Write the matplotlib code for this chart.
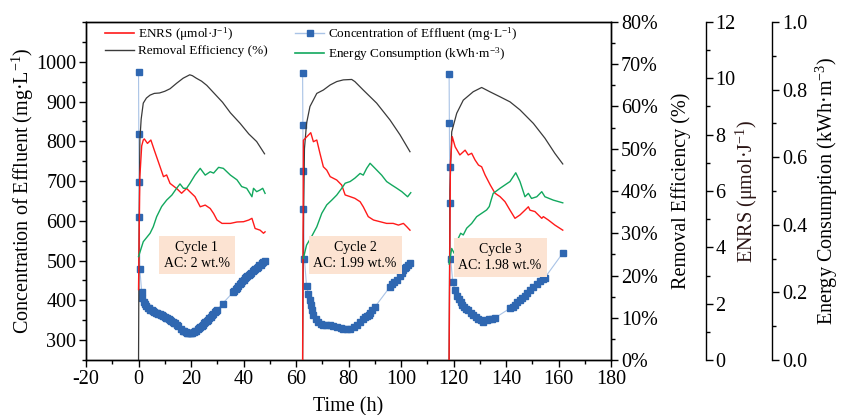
import matplotlib
matplotlib.use("Agg")
import matplotlib.pyplot as plt
from matplotlib.ticker import MultipleLocator, PercentFormatter, FormatStrFormatter
from matplotlib.lines import Line2D

plt.rcParams['font.family'] = ['Liberation Serif', 'DejaVu Serif']
plt.rcParams['mathtext.fontset'] = 'custom'
plt.rcParams['mathtext.rm'] = 'Liberation Serif'
plt.rcParams['mathtext.it'] = 'Liberation Serif:italic'
plt.rcParams['axes.unicode_minus'] = False
plt.rcParams['xtick.direction'] = 'out'
plt.rcParams['ytick.direction'] = 'out'

# effluent concentration (mg/L), one list per cycle
conc_t = [
    [0, 0.1, 0.2, 0.3, 0.5, 1.2, 1.5, 2, 2.5, 3, 3.5, 4, 4.5, 5, 5.5, 6, 6.5, 7, 7.5, 8, 8.5, 9,
     9.5, 10, 10.5, 11, 11.5, 12, 12.5, 13, 13.5, 14, 14.5, 15, 16, 17, 17.5, 18, 18.5, 19, 19.5,
     20, 20.5, 21, 21.5, 22, 22.5, 23, 23.5, 24, 24.5, 25, 25.5, 26, 26.5, 27, 27.5, 28, 28.5, 29,
     29.5, 30, 32, 36, 36.5, 37, 37.5, 38, 38.5, 39, 39.5, 40, 40.5, 41, 41.5, 42, 42.5, 43, 43.5,
     44, 44.5, 45, 45.5, 46, 46.5, 47, 47.5, 48],
    [62.5, 62.6, 62.7, 62.8, 63.2, 64, 64.7, 65.2, 65.6, 66.1, 66.6, 67.5, 68.5, 69.5, 70.4,
     71.5, 73, 74, 75.5, 77, 78, 79.5, 80.6, 82, 83.1, 84.5, 85.6, 86.3, 87, 87.6, 88.2, 89, 90.1,
     95.8, 96.5, 97.5, 98.4, 99.5, 100.2, 100.9, 101.5, 102, 102.7, 103.4],
    [118.3, 118.4, 118.5, 118.6, 118.9, 119.7, 120.6, 121.5, 122.1, 122.7, 123.4, 124, 124.8,
     125.6, 126.5, 127.5, 128.5, 129.5, 130.3, 131.1, 132.6, 133.5, 134.5, 135.8, 141.5, 142.5,
     143.4, 144.3, 145.3, 146.2, 147.2, 148.1, 149.1, 150.4, 151.7, 153, 154.2, 154.8, 161.6],
]
conc_v = [
    [973, 819, 697, 610, 478, 421, 405, 396, 390, 385, 382, 380, 377, 375, 372, 370, 368, 367,
     366, 365, 363, 362, 360, 358, 356, 355, 352, 350, 348, 346, 344, 342, 338, 335, 328, 324,
     322, 320, 319, 318, 317, 318, 319, 320, 322, 324, 327, 330, 333, 336, 339, 342, 345, 348,
     351, 355, 358, 362, 366, 370, 373, 376, 392, 420, 424, 428, 432, 436, 440, 444, 448, 452,
     455, 458, 461, 464, 467, 470, 473, 476, 479, 482, 485, 488, 490, 493, 496, 498],
    [971, 841, 726, 629, 504, 436, 417, 400, 388, 375, 363, 352, 346, 341, 338, 338, 338, 335,
     333, 330, 329, 329, 329, 333, 338, 346, 354, 357, 360, 363, 367, 375, 384, 434, 440, 446,
     451, 462, 469, 476, 481, 485, 489, 493],
    [970, 846, 735, 646, 504, 446, 425, 412, 404, 395, 389, 383, 379, 375, 369, 363, 358, 354,
     350, 346, 350, 352, 354, 356, 380, 384, 388, 395, 401, 406, 412, 418, 425, 433, 442, 448,
     454, 457, 519],
]

# removal efficiency (%)
re_t = [
    [0, 0.2, 0.5, 1, 1.8, 3, 4.4, 6, 8, 10, 12, 14.5, 17, 19.5, 20.5, 22, 24, 26, 29, 32, 35,
     38.7, 42, 45, 48],
    [62.5, 62.8, 63.2, 64, 65.3, 67.9, 70.4, 73, 75.5, 78, 81.2, 82.4, 85.6, 90.7, 95.8, 99.6, 103.4],
    [118.3, 118.6, 119.3, 121.2, 123.7, 127.5, 130.7, 133.8, 137.7, 141.5, 145.3, 150.4, 154.8,
     158.6, 161.6],
]
re_v = [
    [0, 30, 52, 57, 60.8, 62, 62.7, 63.1, 63.2, 63.6, 64.2, 65.5, 66.7, 67.5, 67.3, 66.7, 66, 65,
     63, 61, 58.5, 56, 53.5, 51.7, 48.8],
    [0, 30, 50, 56, 60, 63.1, 63.9, 65.1, 65.9, 66.3, 66.4, 65.9, 63.9, 60.8, 56.8, 53.3, 49.3],
    [0, 40, 54, 58.4, 61.5, 63.5, 64.5, 63.5, 62.3, 61.1, 59.2, 56, 52.5, 48.9, 46.4],
]

# ENRS (umol/J)
enrs_t = [
    [0, 0.5, 1.2, 1.8, 2.2, 3.4, 4.7, 6, 8.2, 9.5, 10.7, 12, 14.5, 16.4, 18.3, 19.6, 21.5, 23.5,
     25.4, 27.3, 28.6, 29.9, 31.8, 35, 37.5, 40, 42, 43.2, 44.4, 46.3, 47.6, 48.2],
    [62.5, 62.8, 65.6, 66.6, 67.9, 69.1, 70.4, 71.7, 73, 75.5, 77.4, 78.7, 80.6, 82.4, 84.4,
     85.6, 87.5, 89.5, 92, 94.5, 97, 99, 100.9, 102.2, 103.4],
    [118.3, 118.8, 119.5, 120.6, 122.4, 124.4, 125.6, 126.9, 128.2, 129.5, 130.7, 132, 134,
     135.8, 137.7, 139.6, 141.5, 143.4, 145.3, 147.2, 148.5, 149.1, 151, 152.3, 153.6, 154.2,
     156.1, 158.6, 161.6],
]
enrs_v = [
    [2.5, 6.5, 7.6, 7.81, 7.85, 7.69, 7.81, 7.45, 6.86, 6.51, 6.57, 6.27, 6.09, 5.92, 6.09, 5.97,
     5.8, 5.44, 5.5, 5.38, 5.2, 4.97, 4.85, 4.85, 4.9, 4.91, 4.97, 5.03, 4.67, 4.61, 4.5, 4.55],
    [0, 7.8, 8.07, 7.75, 7.81, 7.34, 6.86, 6.74, 6.51, 6.39, 6.21, 5.86, 5.8, 5.74, 5.62, 5.44,
     5.09, 4.97, 4.91, 4.85, 4.85, 4.79, 4.85, 4.73, 4.61],
    [0, 7.0, 7.93, 7.57, 7.28, 7.45, 7.28, 7.34, 7.1, 6.92, 6.86, 6.57, 6.21, 5.92, 5.8, 5.62,
     5.32, 5.03, 5.15, 5.32, 5.44, 5.32, 5.27, 5.15, 5.03, 5.09, 4.97, 4.79, 4.61],
]

# energy consumption (kWh/m3)
ec_t = [
    [0, 1.8, 4.4, 5.6, 6.9, 8.8, 10.7, 12.7, 14.5, 15.8, 17.1, 18.3, 19.6, 21.5, 23.5, 25.4,
     27.3, 28.6, 30.5, 32.3, 35, 37.5, 39.3, 41.2, 43.2, 43.8, 45, 46.3, 47.3, 48.2],
    [62.8, 64, 65.9, 67.9, 69.8, 71.7, 73.6, 75.5, 77.4, 78.7, 80.6, 82.4, 84.4, 85.6, 86.9,
     88.2, 90.1, 92.6, 94.5, 96.4, 98.4, 100.3, 102.5, 103.7],
    [118.3, 119.3, 120.2, 121.2, 122.7, 123.7, 125, 126.9, 128.8, 130.7, 132.6, 133.6, 134.3,
     135.1, 137.7, 141.5, 143.7, 145.3, 147.2, 148.5, 149.7, 151.7, 153.6, 154.8, 158, 161.6],
]
ec_v = [
    [0.306, 0.35, 0.375, 0.394, 0.424, 0.454, 0.473, 0.488, 0.508, 0.521, 0.508, 0.508, 0.523,
     0.547, 0.567, 0.547, 0.557, 0.553, 0.570, 0.567, 0.547, 0.533, 0.513, 0.508, 0.483, 0.508,
     0.498, 0.503, 0.508, 0.493],
    [0.301, 0.340, 0.365, 0.394, 0.434, 0.459, 0.473, 0.488, 0.508, 0.523, 0.528, 0.538, 0.552,
     0.547, 0.567, 0.582, 0.567, 0.547, 0.528, 0.518, 0.508, 0.498, 0.483, 0.495],
    [0.284, 0.330, 0.316, 0.350, 0.375, 0.370, 0.390, 0.404, 0.424, 0.434, 0.444, 0.454, 0.473,
     0.493, 0.508, 0.528, 0.554, 0.528, 0.483, 0.493, 0.478, 0.483, 0.498, 0.483, 0.473, 0.465],
]

cycle_labels = ["Cycle 1\nAC: 2 wt.%", "Cycle 2\nAC: 1.99 wt.%", "Cycle 3\nAC: 1.98 wt.%"]
cycle_pos = [(22.2, 514), (82.5, 514), (137.7, 507)]

c_red = '#ff1a1a'
c_black = '#3a3a3a'
c_green = '#12a85e'
c_blue = '#2f67b1'
c_blue_line = '#a9c3e6'

fig = plt.figure(figsize=(8.41, 4.15), dpi=100)
ax = fig.add_axes([0.1023, 0.1325, 0.6243, 0.8145])
ax2 = ax.twinx()
ax3 = ax.twinx()
ax4 = ax.twinx()
ax3.spines['right'].set_position(('axes', 1.18))
ax4.spines['right'].set_position(('axes', 1.307))

for t, v in zip(conc_t, conc_v):
    ax.plot(t, v, color=c_blue_line, lw=0.8, marker='s', ms=4.8,
            mfc=c_blue, mec=c_blue, zorder=3)
for t, v in zip(re_t, re_v):
    ax2.plot(t, v, color=c_black, lw=0.9)
for t, v in zip(enrs_t, enrs_v):
    ax3.plot(t, v, color=c_red, lw=1.0)
for t, v in zip(ec_t, ec_v):
    ax4.plot(t, v, color=c_green, lw=1.0)

for (x, y), txt in zip(cycle_pos, cycle_labels):
    ax4.text(x, y, txt, transform=ax.transData, ha='center', va='center', fontsize=10,
             linespacing=1.3,
             bbox=dict(boxstyle='square,pad=0.35', fc='#fce3d2', ec='none'))

fs = 14.5
ax.set_xlim(-20, 180)
ax.set_ylim(250, 1100)
ax.xaxis.set_major_locator(MultipleLocator(20))
ax.xaxis.set_minor_locator(MultipleLocator(10))
ax.yaxis.set_major_locator(MultipleLocator(100))
ax.yaxis.set_minor_locator(MultipleLocator(50))
ax.set_yticks(range(300, 1001, 100))
ax.set_xlabel("Time (h)", fontsize=fs, labelpad=6)
ax.set_ylabel("Concentration of Effluent (mg·L$^{-1}$)", fontsize=fs, labelpad=0)

ax2.set_ylim(0, 80)
ax2.yaxis.set_major_locator(MultipleLocator(10))
ax2.yaxis.set_minor_locator(MultipleLocator(5))
ax2.yaxis.set_major_formatter(PercentFormatter(decimals=0))
ax2.set_ylabel("Removal Efficiency (%)", fontsize=fs, labelpad=10)

ax3.set_ylim(0, 12)
ax3.yaxis.set_major_locator(MultipleLocator(2))
ax3.yaxis.set_minor_locator(MultipleLocator(1))
ax3.set_ylabel("ENRS (μmol·J$^{-1}$)", fontsize=fs, labelpad=-1, color='#2a1414')

ax4.set_ylim(0, 1.0)
ax4.yaxis.set_major_locator(MultipleLocator(0.2))
ax4.yaxis.set_minor_locator(MultipleLocator(0.1))
ax4.yaxis.set_major_formatter(FormatStrFormatter('%.1f'))
ax4.set_ylabel("Energy Consumption (kWh·m$^{-3}$)", fontsize=fs, labelpad=5)

for a in (ax, ax2, ax3, ax4):
    a.tick_params(which='major', length=5, width=1, labelsize=fs, pad=2)
    a.tick_params(which='minor', length=3, width=1)
    for s in a.spines.values():
        s.set_linewidth(1)
for a in (ax3, ax4):
    a.spines['top'].set_visible(False)
    a.spines['left'].set_visible(False)
    a.spines['bottom'].set_visible(False)

handles = [
    Line2D([], [], color=c_red, lw=1.2),
    Line2D([], [], color=c_black, lw=1.0),
    Line2D([], [], color=c_blue_line, lw=1.0, marker='s', ms=4.6, mfc=c_blue, mec=c_blue),
    Line2D([], [], color=c_green, lw=1.2),
]
labels = ["ENRS (μmol·J$^{-1}$)", "Removal Efficiency (%)",
          "Concentration of Effluent (mg·L$^{-1}$)", "Energy Consumption (kWh·m$^{-3}$)"]
ax4.legend(handles, labels, ncol=2, loc='upper left', bbox_to_anchor=(0.013, 1.025),
           frameon=False, fontsize=9.5, handlelength=2.2, handletextpad=0.3,
           columnspacing=2.1, labelspacing=0.15)

fig.savefig("out.png", dpi=100)
